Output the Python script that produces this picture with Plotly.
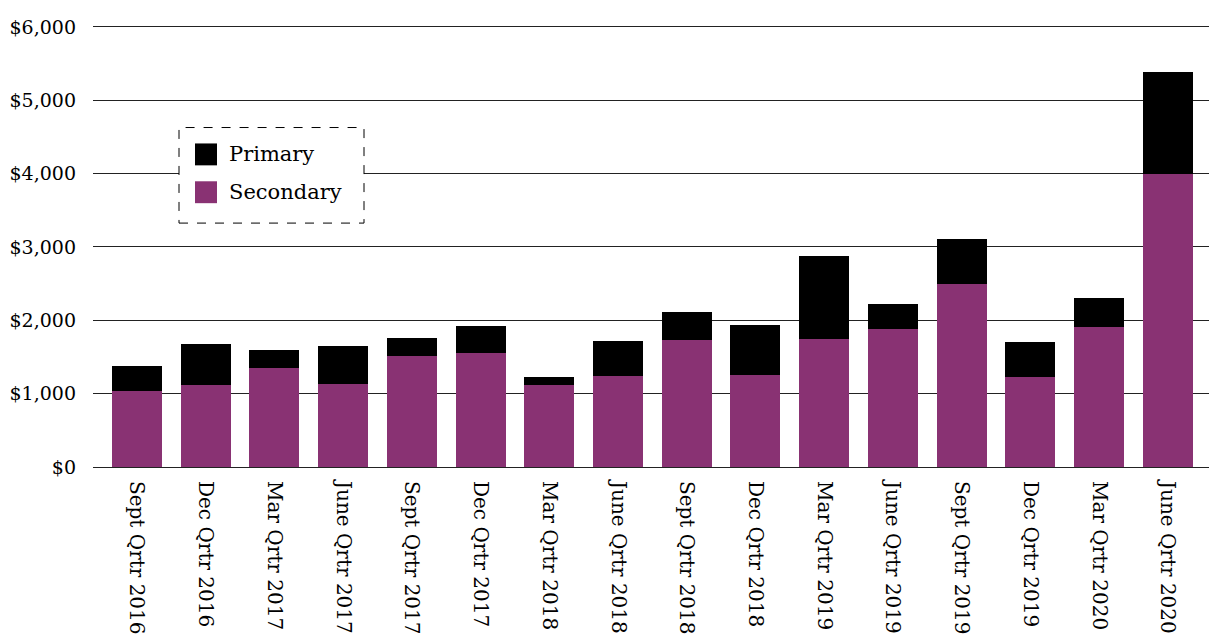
import plotly.graph_objects as go

categories = ["Sept Qrtr 2016", "Dec Qrtr 2016", "Mar Qrtr 2017", "June Qrtr 2017",
              "Sept Qrtr 2017", "Dec Qrtr 2017", "Mar Qrtr 2018", "June Qrtr 2018",
              "Sept Qrtr 2018", "Dec Qrtr 2018", "Mar Qrtr 2019", "June Qrtr 2019",
              "Sept Qrtr 2019", "Dec Qrtr 2019", "Mar Qrtr 2020", "June Qrtr 2020"]
secondary = [1032, 1113, 1344, 1127, 1507, 1561, 1113, 1235, 1738, 1249, 1751, 1887, 2498, 1222, 1914, 3995]
primary = [339, 570, 258, 529, 258, 366, 109, 489, 380, 692, 1127, 339, 610, 488, 394, 1394]
series_names = ["Primary", "Secondary"]
series_colors = ["#000000", "#893273"]

FONT = "DejaVu Serif"

fig = go.Figure()
fig.add_trace(go.Bar(x=categories, y=secondary, name="Secondary", marker_color=series_colors[1],
                     marker_line_width=0))
fig.add_trace(go.Bar(x=categories, y=primary, name="Primary", marker_color=series_colors[0],
                     marker_line_width=0))

W, H = 1209, 635
L, T, B = 93, 20, 166
pw, ph = W - L, H - T - B
YMAX = 6095


def px(x):
    return (x - L) / pw


def py(y):
    return (H - B - y) / ph


shapes = [dict(type="rect", xref="paper", yref="paper",
               x0=px(179), x1=px(364), y0=py(224), y1=py(128),
               line=dict(color="black", width=1, dash="dash"),
               fillcolor="white", layer="above")]
annotations = []
for i, (name, col) in enumerate(zip(series_names, series_colors)):
    top = 144 + i * 38
    shapes.append(dict(type="rect", xref="paper", yref="paper",
                       x0=px(195), x1=px(217), y0=py(top + 22), y1=py(top),
                       line=dict(width=0), fillcolor=col, layer="above"))
    annotations.append(dict(xref="paper", yref="paper", x=px(227), y=py(top + 11),
                            xanchor="left", yanchor="middle", showarrow=False,
                            text=name, font=dict(family=FONT, size=21, color="black")))

fig.update_layout(
    barmode="stack",
    bargap=0.272,
    width=W, height=H,
    margin=dict(l=L, r=0, t=T, b=B),
    plot_bgcolor="white", paper_bgcolor="white",
    font=dict(family=FONT, color="black", size=19),
    showlegend=False,
    xaxis=dict(tickangle=90, range=[-0.64, 15.6], showgrid=False, ticks="",
               ticklabelstandoff=13,
               tickfont=dict(size=20, family=FONT, color="black"), showline=False),
    yaxis=dict(range=[0, YMAX], dtick=1000, tickprefix="$", tickformat=",",
               showgrid=True, gridcolor="#222222", gridwidth=1,
               zeroline=True, zerolinecolor="#222222", zerolinewidth=1,
               ticks="", ticklabelstandoff=16,
               tickfont=dict(size=19, family=FONT, color="black")),
    shapes=shapes,
    annotations=annotations,
)

fig.write_html("out.html")
